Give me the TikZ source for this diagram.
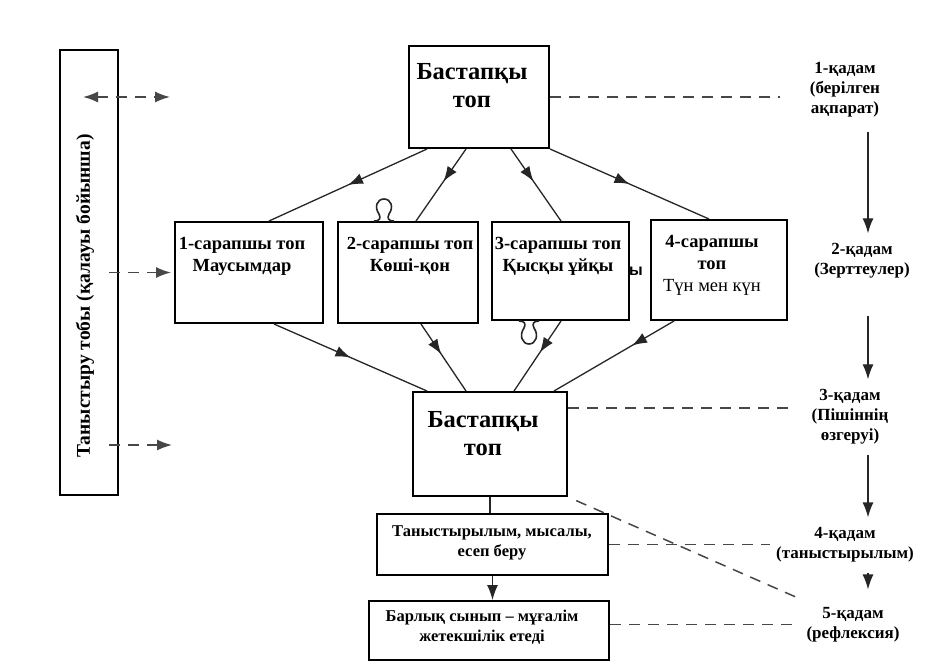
\documentclass[tikz,border=0pt]{standalone}
\usepackage{fontspec}
\setmainfont{Liberation Serif}
\newfontfamily\sansbold{Liberation Sans}
\usetikzlibrary{arrows.meta,decorations.markings}
\begin{document}
\begin{tikzpicture}[x=1pt,y=-1pt,
  box/.style={draw=black, line width=2pt, fill=white, inner sep=0pt},
  boxtxt/.style={font=\bfseries\fontsize{18.5}{22}\selectfont, align=center, inner sep=0pt},
  bigtxt/.style={font=\bfseries\fontsize{24.5}{28}\selectfont, align=center, inner sep=0pt},
  midtxt/.style={font=\bfseries\fontsize{16.5}{20}\selectfont, align=center, inner sep=0pt},
  steptxt/.style={font=\bfseries\fontsize{17}{20}\selectfont, align=center, fill=white, inner xsep=0pt, inner ysep=10pt},
  conn/.style={line width=1.3pt, draw=black!85},
  dsh/.style={line width=1.5pt, draw=black!72, dash pattern=on 11pt off 8pt},
  tipa/.style={-{Latex[length=15pt,width=11pt]}},
  tipb/.style={{Latex[length=15pt,width=11pt]}-{Latex[length=15pt,width=11pt]}},
  midarr/.style={postaction={decorate}, decoration={markings, mark=at position #1 with {\arrow{Latex[length=15pt,width=11pt]}}}},
  clipline/.style={line width=1.6pt, draw=black!85}
]
\fill[white] (0,0) rectangle (941,662);
\useasboundingbox (0,0) rectangle (941,662);

% boxes
\node[box, minimum width=58pt, minimum height=445pt] (left) at (89,272.5) {};
\node[box, minimum width=140pt, minimum height=102pt] (top) at (479,97) {};
\node[box, minimum width=148pt, minimum height=101pt] (b1) at (249,272.5) {};
\node[box, minimum width=140pt, minimum height=101pt] (b2) at (408,272.5) {};
\node[box, minimum width=137pt, minimum height=98pt] (b3) at (560.5,271) {};
\node[box, minimum width=136pt, minimum height=100pt] (b4) at (719,270) {};
\node[box, minimum width=154pt, minimum height=104pt] (bot) at (490,444) {};
\node[box, minimum width=231pt, minimum height=61pt] (pres) at (492.5,544.5) {};
\node[box, minimum width=240pt, minimum height=59pt] (all) at (489,630.5) {};

% texts
\node[font=\bfseries\fontsize{19.5}{22}\selectfont, rotate=90, inner sep=0pt] (lt) at (85,296) {Таныстыру тобы (қалауы бойынша)};
\node[bigtxt] (topt) at (472,86) {Бастапқы\\топ};
\node[boxtxt] (b1t) at (242,256) {1-сарапшы топ\\Маусымдар};
\node[boxtxt] (b2t) at (410,256) {2-сарапшы топ\\Көші-қон};
\node[boxtxt] (b3t) at (558,256) {3-сарапшы топ\\Қысқы ұйқы};
\node[boxtxt] (b4t) at (712,265) {4-сарапшы\\топ\\{\mdseries Түн мен күн}};
\node[font=\sansbold\bfseries\fontsize{16}{18}\selectfont, inner sep=0pt] (stray) at (636,271) {ы};
\node[bigtxt] (bott) at (483,434) {Бастапқы\\топ};
\node[midtxt] (prest) at (492,543) {Таныстырылым, мысалы,\\есеп беру};
\node[midtxt] (allt) at (482,627) {Барлық сынып – мұғалім\\жетекшілік етеді};

% steps
\node[steptxt, minimum width=130pt] (s1) at (845,90) {1-қадам\\(берілген\\ақпарат)};
\node[steptxt, minimum width=120pt] (s2) at (862,261) {2-қадам\\(Зерттеулер)};
\node[steptxt, minimum width=124pt] (s3) at (850,417) {3-қадам\\(Пішіннің\\өзгеруі)};
\node[steptxt, minimum width=150pt] (s4) at (845,545) {4-қадам\\(таныстырылым)};
\node[steptxt, minimum width=112pt] (s5) at (853,625) {5-қадам\\(рефлексия)};
\coordinate (axis) at (868,0);

% step arrows
\draw[conn, tipa, shorten <=4pt] (s1.south -| axis) -- (s2.north -| axis);
\draw[conn, tipa, shorten <=27pt] (s2.south -| axis) -- (s3.north -| axis);
\draw[conn, tipa] (s3.south -| axis) -- (s4.north -| axis);
\draw[conn, tipa, shorten >=8pt] (s4.south -| axis) -- (s5.north -| axis);

% solid connectors with mid arrows
\draw[conn, midarr=0.5] ([xshift=19pt]top.south west) -- ([xshift=95pt]b1.north west);
\draw[conn, midarr=0.45] ([xshift=58pt]top.south west) -- ([xshift=79pt]b2.north west);
\draw[conn, midarr=0.45] ([xshift=103pt]top.south west) -- ([xshift=70pt]b3.north west);
\draw[conn, midarr=0.5] (top.south east) -- ([xshift=59pt]b4.north west);
\draw[conn, midarr=0.5] ([xshift=100pt]b1.south west) -- ([xshift=15pt]bot.north west);
\draw[conn, midarr=0.45] ([xshift=84pt]b2.south west) -- ([xshift=54pt]bot.north west);
\draw[conn, midarr=0.45] ([xshift=70pt]b3.south west) -- ([xshift=102pt]bot.north west);
\draw[conn, midarr=0.35] ([xshift=24pt]b4.south west) -- ([xshift=142pt]bot.north west);
\draw[conn] (bot.south) -- (bot.south |- pres.north);
\draw[conn, tipa] (pres.south) -- (pres.south |- all.north);

% dashed connectors
\draw[dsh] (top.east) -- (top.east -| s1.west);
\draw[dsh] ([yshift=36pt]bot.east) -- ([yshift=36pt]bot.east -| s3.west);
\draw[dsh] (pres.east) -- (pres.east -| s4.west);
\draw[dsh] ([yshift=6pt]all.east) -- ([yshift=6pt]all.east -| s5.west);
\draw[dsh, shorten <=9pt] (bot.south east) -- (s5.north west);

% left dashed arrows
\coordinate (e1) at (170,97);
\coordinate (e3) at (172,445);
\draw[dsh, tipb, shorten <=-6pt] (left.center |- top.east) -- (e1);
\draw[dsh, tipa, shorten <=-10pt, shorten >=3pt] (left.east |- b1.west) -- (b1.west);
\draw[dsh, tipa, shorten <=-10pt] (left.east |- e3) -- (e3);

% paper clips
\draw[clipline] (374,221) .. controls (380,221) and (381,218) .. (379,214) .. controls (374,207) and (377,199) .. (384,199) .. controls (391,199) and (394,207) .. (389,214) .. controls (387,218) and (388,221) .. (394,221);
\draw[clipline] (519,321) .. controls (525,321) and (526,324) .. (524,328) .. controls (519,335) and (522,344) .. (529,344) .. controls (536,344) and (539,335) .. (534,328) .. controls (532,324) and (533,321) .. (539,321);
\end{tikzpicture}
\end{document}
